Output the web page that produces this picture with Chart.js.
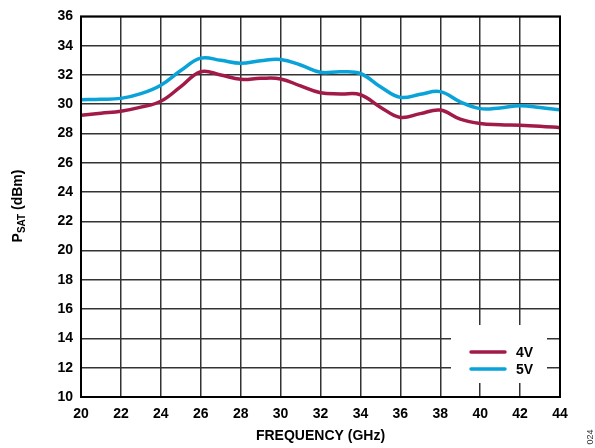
<!DOCTYPE html>
<html>
<head>
<meta charset="utf-8">
<script src="https://cdn.jsdelivr.net/npm/chart.js@4/dist/chart.umd.min.js"></script>
<style>
  body { margin: 0; background: #fff; }
  canvas { display: block; }
</style>
</head>
<body>
<canvas id="psatChart" width="595" height="448"></canvas>
<script>
// Data
const freqGHz = [20, 21, 22, 23, 24, 25, 26, 27, 28, 29, 30, 31, 32, 33, 34, 35, 36, 37, 38, 39, 40, 41, 42, 43, 44];
const psat4V = [29.25, 29.39, 29.52, 29.8, 30.2, 31.2, 32.22, 32.0, 31.7, 31.77, 31.73, 31.25, 30.78, 30.7, 30.65, 29.8, 29.1, 29.36, 29.6, 28.98, 28.68, 28.6, 28.57, 28.5, 28.4];
const psat5V = [30.31, 30.34, 30.4, 30.72, 31.3, 32.3, 33.15, 33.0, 32.8, 32.97, 33.05, 32.68, 32.18, 32.22, 32.1, 31.2, 30.47, 30.68, 30.86, 30.16, 29.7, 29.75, 29.9, 29.78, 29.62];
const seriesLabels = ['4V', '5V'];
const seriesColors = ['#A21B48', '#0AA3D9'];

const FONT = "'Liberation Sans', Arial, sans-serif";

function toPoints(ys) {
    return freqGHz.map((x, i) => ({ x: x, y: ys[i] }));
}

// Frame, axis titles, legend and the little figure number
const decorations = {
    id: 'decorations',
    afterDraw(chart) {
        const ctx = chart.ctx;
        const area = chart.chartArea;
        ctx.save();

        // black frame round the plot
        ctx.strokeStyle = '#000';
        ctx.lineWidth = 2;
        ctx.strokeRect(area.left, area.top, area.right - area.left, area.bottom - area.top);

        // x title
        ctx.fillStyle = '#000';
        ctx.font = 'bold 14px ' + FONT;
        ctx.textAlign = 'center';
        ctx.textBaseline = 'middle';
        ctx.fillText('FREQUENCY (GHz)', (area.left + area.right) / 2, 436);

        // y title with subscript
        ctx.save();
        ctx.translate(18, 206);
        ctx.rotate(-Math.PI / 2);
        ctx.textAlign = 'left';
        ctx.textBaseline = 'middle';
        const big = 'bold 14px ' + FONT;
        const small = 'bold 10px ' + FONT;
        ctx.font = big;
        const wP = ctx.measureText('P').width;
        const wRest = ctx.measureText(' (dBm)').width;
        ctx.font = small;
        const wSub = ctx.measureText('SAT').width;
        let x = -(wP + wSub + wRest) / 2;
        ctx.font = big;
        ctx.fillText('P', x, 0);
        x += wP;
        ctx.font = small;
        ctx.fillText('SAT', x, 4);
        x += wSub;
        ctx.font = big;
        ctx.fillText(' (dBm)', x, 0);
        ctx.restore();

        // legend box
        ctx.fillStyle = '#fff';
        ctx.fillRect(451, 325, 96, 58);
        const rows = [352, 369];
        seriesLabels.forEach((lab, i) => {
            ctx.strokeStyle = seriesColors[i];
            ctx.lineWidth = 3.5;
            ctx.lineCap = 'round';
            ctx.beginPath();
            ctx.moveTo(471, rows[i]);
            ctx.lineTo(505, rows[i]);
            ctx.stroke();
            ctx.fillStyle = '#000';
            ctx.font = 'bold 14px ' + FONT;
            ctx.textAlign = 'left';
            ctx.textBaseline = 'middle';
            ctx.fillText(lab, 516, rows[i] + 1);
        });

        // figure number
        ctx.save();
        ctx.translate(591, 437);
        ctx.rotate(-Math.PI / 2);
        ctx.font = '9px ' + FONT;
        ctx.fillStyle = '#333';
        ctx.textAlign = 'center';
        ctx.textBaseline = 'middle';
        ctx.fillText('024', 0, 0);
        ctx.restore();

        ctx.restore();
    }
};

const ctx = document.getElementById('psatChart').getContext('2d');
const psatChart = new Chart(ctx, {
    type: 'line',
    data: {
        datasets: [
            {
                label: seriesLabels[0],
                data: toPoints(psat4V),
                borderColor: seriesColors[0],
                borderWidth: 3.5,
                pointRadius: 0,
                fill: false,
                tension: 0.4
            },
            {
                label: seriesLabels[1],
                data: toPoints(psat5V),
                borderColor: seriesColors[1],
                borderWidth: 3.5,
                pointRadius: 0,
                fill: false,
                tension: 0.4
            }
        ]
    },
    options: {
        responsive: false,
        animation: false,
        layout: { padding: { top: 15, right: 35, left: 0, bottom: 0 } },
        plugins: {
            legend: { display: false },
            tooltip: { enabled: false }
        },
        scales: {
            x: {
                type: 'linear',
                min: 20,
                max: 44,
                afterFit(scale) { scale.height = 51; },
                ticks: {
                    stepSize: 2,
                    padding: 9,
                    color: '#000',
                    font: { family: FONT, size: 14, weight: 'bold' }
                },
                grid: { color: '#333', lineWidth: 1.5, drawTicks: false },
                border: { display: false }
            },
            y: {
                min: 10,
                max: 36,
                afterFit(scale) { scale.width = 81; },
                ticks: {
                    stepSize: 2,
                    padding: 8,
                    color: '#000',
                    font: { family: FONT, size: 14, weight: 'bold' }
                },
                grid: { color: '#333', lineWidth: 1.5, drawTicks: false },
                border: { display: false }
            }
        }
    },
    plugins: [decorations]
});
</script>
</body>
</html>
